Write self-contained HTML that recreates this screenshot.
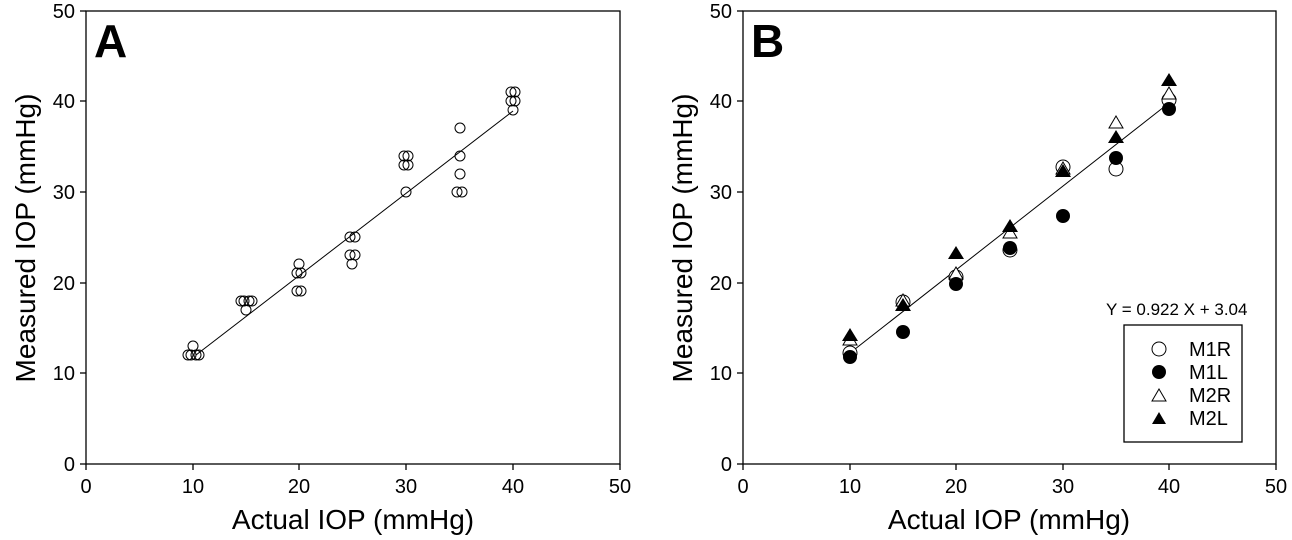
<!DOCTYPE html>
<html><head><meta charset="utf-8"><style>body{margin:0;background:#fff}svg{display:block}text{font-family:"Liberation Sans",sans-serif;fill:#000}</style></head>
<body>
<svg width="1292" height="540" viewBox="0 0 1292 540" xmlns="http://www.w3.org/2000/svg">
<g id="A" stroke="#000" fill="none">
<rect x="86" y="11" width="534" height="453" stroke-width="1.3"/>
<g stroke-width="1.3">
<line x1="80" y1="464" x2="86" y2="464"/><line x1="80" y1="373" x2="86" y2="373"/><line x1="80" y1="283" x2="86" y2="283"/><line x1="80" y1="192" x2="86" y2="192"/><line x1="80" y1="101" x2="86" y2="101"/><line x1="80" y1="11" x2="86" y2="11"/>
<line x1="86" y1="464" x2="86" y2="470"/><line x1="193" y1="464" x2="193" y2="470"/><line x1="299" y1="464" x2="299" y2="470"/><line x1="406" y1="464" x2="406" y2="470"/><line x1="513" y1="464" x2="513" y2="470"/><line x1="620" y1="464" x2="620" y2="470"/>
</g>
<line x1="196" y1="355" x2="513" y2="111" stroke-width="1"/>
<g stroke-width="1">
<ellipse cx="188" cy="355" rx="5" ry="5"/><ellipse cx="191" cy="355" rx="5" ry="5"/><ellipse cx="196" cy="355" rx="5" ry="5"/><ellipse cx="199" cy="355" rx="5" ry="5"/><ellipse cx="193" cy="346" rx="5" ry="5"/>
<ellipse cx="241" cy="301" rx="5" ry="5"/><ellipse cx="244" cy="301" rx="5" ry="5"/><ellipse cx="249" cy="301" rx="5" ry="5"/><ellipse cx="252" cy="301" rx="5" ry="5"/><ellipse cx="246" cy="310" rx="5" ry="5"/>
<ellipse cx="299" cy="264" rx="5" ry="5"/><ellipse cx="297" cy="273" rx="5" ry="5"/><ellipse cx="301" cy="273" rx="5" ry="5"/><ellipse cx="297" cy="291" rx="5" ry="5"/><ellipse cx="301" cy="291" rx="5" ry="5"/>
<ellipse cx="350" cy="237" rx="5" ry="5"/><ellipse cx="355" cy="237" rx="5" ry="5"/><ellipse cx="350" cy="255" rx="5" ry="5"/><ellipse cx="355" cy="255" rx="5" ry="5"/><ellipse cx="352" cy="264" rx="5" ry="5"/>
<ellipse cx="404" cy="156" rx="5" ry="5"/><ellipse cx="408" cy="156" rx="5" ry="5"/><ellipse cx="404" cy="165" rx="5" ry="5"/><ellipse cx="408" cy="165" rx="5" ry="5"/><ellipse cx="406" cy="192" rx="5" ry="5"/>
<ellipse cx="460" cy="128" rx="5" ry="5"/><ellipse cx="460" cy="156" rx="5" ry="5"/><ellipse cx="460" cy="174" rx="5" ry="5"/><ellipse cx="457" cy="192" rx="5" ry="5"/><ellipse cx="462" cy="192" rx="5" ry="5"/>
<ellipse cx="511" cy="92" rx="5" ry="5"/><ellipse cx="515" cy="92" rx="5" ry="5"/><ellipse cx="511" cy="101" rx="5" ry="5"/><ellipse cx="515" cy="101" rx="5" ry="5"/><ellipse cx="513" cy="110" rx="5" ry="5"/>
</g>
</g>
<g font-size="20" text-anchor="end">
<text x="75" y="471">0</text><text x="75" y="380">10</text><text x="75" y="290">20</text><text x="75" y="199">30</text><text x="75" y="108">40</text><text x="75" y="18">50</text>
</g>
<g font-size="20" text-anchor="middle">
<text x="86" y="493">0</text><text x="193" y="493">10</text><text x="299" y="493">20</text><text x="406" y="493">30</text><text x="513" y="493">40</text><text x="620" y="493">50</text>
</g>
<text x="353" y="529" font-size="28" text-anchor="middle">Actual IOP (mmHg)</text>
<text transform="translate(35,238) rotate(-90)" font-size="28" text-anchor="middle">Measured IOP (mmHg)</text>
<text x="94" y="57" font-size="46" font-weight="bold">A</text>

<g stroke="#000" fill="none" stroke-width="1.3">
<rect x="743" y="11" width="533" height="453"/>
<line x1="737" y1="464" x2="743" y2="464"/><line x1="737" y1="373" x2="743" y2="373"/><line x1="737" y1="283" x2="743" y2="283"/><line x1="737" y1="192" x2="743" y2="192"/><line x1="737" y1="101" x2="743" y2="101"/><line x1="737" y1="11" x2="743" y2="11"/>
<line x1="743" y1="464" x2="743" y2="470"/><line x1="850" y1="464" x2="850" y2="470"/><line x1="956" y1="464" x2="956" y2="470"/><line x1="1063" y1="464" x2="1063" y2="470"/><line x1="1169" y1="464" x2="1169" y2="470"/><line x1="1276" y1="464" x2="1276" y2="470"/>
<line x1="850" y1="353" x2="1169" y2="103" stroke-width="1"/>
<rect x="1124" y="325" width="118" height="117"/>
</g>
<g font-size="20" text-anchor="end">
<text x="732" y="471">0</text><text x="732" y="380">10</text><text x="732" y="290">20</text><text x="732" y="199">30</text><text x="732" y="108">40</text><text x="732" y="18">50</text>
</g>
<g font-size="20" text-anchor="middle">
<text x="743" y="493">0</text><text x="850" y="493">10</text><text x="956" y="493">20</text><text x="1063" y="493">30</text><text x="1169" y="493">40</text><text x="1276" y="493">50</text>
</g>
<text x="1009" y="529" font-size="28" text-anchor="middle">Actual IOP (mmHg)</text>
<text transform="translate(692,238) rotate(-90)" font-size="28" text-anchor="middle">Measured IOP (mmHg)</text>
<text x="751" y="57" font-size="46" font-weight="bold">B</text>
<text x="1106" y="315" font-size="17">Y = 0.922 X + 3.04</text>

<g fill="#fff" stroke="#000" stroke-width="1">
<circle cx="850" cy="353" r="7"/><circle cx="903" cy="302" r="7"/><circle cx="956" cy="277" r="7"/><circle cx="1010" cy="250" r="7"/><circle cx="1063" cy="167" r="7"/><circle cx="1116" cy="169" r="7"/><circle cx="1169" cy="100" r="7"/>
</g>
<g fill="#fff" stroke="#000" stroke-width="1">
<path d="M850,333l7,12h-14z"/><path d="M903,294l7,12h-14z"/><path d="M956,267l7,12h-14z"/><path d="M1010,226l7,12h-14z"/><path d="M1063,162l7,12h-14z"/><path d="M1116,116l7,12h-14z"/><path d="M1169,87l7,12h-14z"/>
</g>
<g fill="#000">
<circle cx="850" cy="357" r="7"/><circle cx="903" cy="332" r="7"/><circle cx="956" cy="284" r="7"/><circle cx="1010" cy="248" r="7"/><circle cx="1063" cy="216" r="7"/><circle cx="1116" cy="158" r="7"/><circle cx="1169" cy="109" r="7"/>
</g>
<g fill="#000">
<path d="M850,328l8,13h-16z"/><path d="M903,298l8,13h-16z"/><path d="M956,246l8,13h-16z"/><path d="M1010,219l8,13h-16z"/><path d="M1063,164l8,13h-16z"/><path d="M1116,130l8,13h-16z"/><path d="M1169,73l8,13h-16z"/>
</g>
<g font-size="20">
<circle cx="1159" cy="349" r="7" fill="#fff" stroke="#000"/><text x="1189" y="356">M1R</text>
<circle cx="1159" cy="372" r="7" fill="#000"/><text x="1189" y="379">M1L</text>
<path d="M1159,389l7,12h-14z" fill="#fff" stroke="#000"/><text x="1189" y="402">M2R</text>
<path d="M1159,412l7,12h-14z" fill="#000"/><text x="1189" y="425">M2L</text>
</g>
</svg>
</body></html>
